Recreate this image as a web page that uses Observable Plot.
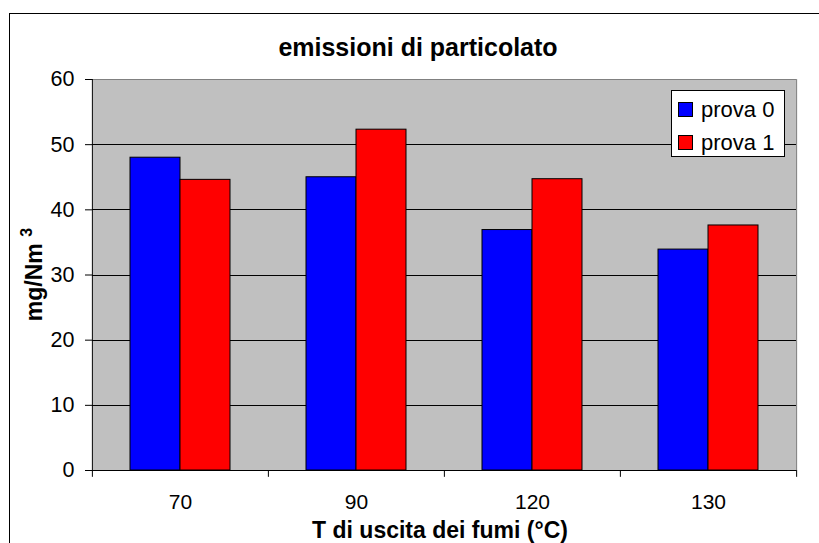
<!DOCTYPE html>
<html>
<head>
<meta charset="utf-8">
<script src="https://cdn.jsdelivr.net/npm/d3@7"></script>
<script src="https://cdn.jsdelivr.net/npm/@observablehq/plot@0.6"></script>
<style>
  html, body { margin: 0; padding: 0; background: #ffffff; overflow: hidden; }
  #chart svg { display: block; overflow: hidden; }
</style>
</head>
<body>
<div id="chart"></div>
<script>
// ---- data ----
const categories = ["70", "90", "120", "130"];
const series = ["prova 0", "prova 1"];
const prova0 = [48.0, 45.0, 36.9, 33.9];
const prova1 = [44.6, 52.3, 44.7, 37.6];
const yTicks = [0, 10, 20, 30, 40, 50, 60];
const seriesColors = ["#0000ff", "#ff0000"];
const titleText = "emissioni di particolato";
const xLabelText = "T di uscita dei fumi (°C)";
const yLabelMain = "mg/Nm";
const yLabelSup = "3";

const rows = [];
categories.forEach((c, i) => {
  rows.push({cat: c, series: series[0], value: prova0[i]});
  rows.push({cat: c, series: series[1], value: prova1[i]});
});

// ---- layout ----
const W = 819, H = 543;
const mL = 90, mR = 22, mT = 79, mB = 73;
const bandW = (W - mL - mR) / categories.length;
const pOuter = 0.75;
const step = bandW / (series.length + 2 * pOuter);
const edge = (pOuter + 0.5) * step; // from first bar centre to facet edge

const first = categories[0], last = categories[categories.length - 1];

const chart = Plot.plot({
  width: W,
  height: H,
  marginLeft: mL,
  marginRight: mR,
  marginTop: mT,
  marginBottom: mB,
  style: {fontFamily: "'Liberation Sans', Arial, sans-serif", fontSize: "21px", color: "#000", background: "#fff"},
  fx: {domain: categories, padding: 0, axis: null},
  x: {domain: series, paddingInner: 0, paddingOuter: pOuter, axis: null},
  y: {domain: [0, 60], axis: null},
  color: {domain: series, range: seriesColors},
  marks: [
    Plot.frame({fill: "#c0c0c0", shapeRendering: "crispEdges"}),
    Plot.ruleY(yTicks.filter(t => t > 0 && t < 60), {stroke: "#000", strokeWidth: 1, shapeRendering: "crispEdges"}),
    Plot.ruleY([60], {stroke: "#808080", strokeWidth: 1, shapeRendering: "crispEdges"}),
    // right border of the plot area
    Plot.ruleX([last], {fx: d => d, x: () => series[1], dx: edge, y1: 0, y2: 60, stroke: "#808080"}),
    Plot.barY(rows, {fx: "cat", x: "series", y: "value", fill: "series", stroke: "#000", strokeWidth: 1}),
    Plot.ruleY([0], {stroke: "#000", strokeWidth: 1, shapeRendering: "crispEdges"}),
    // y axis line + category boundary ticks
    Plot.ruleX([first], {fx: d => d, x: () => series[0], dx: -edge, y1: 0, y2: 60, stroke: "#000"}),
    Plot.ruleX(categories, {fx: d => d, x: () => series[0], dx: -edge, y1: 0, y2: -1.05, stroke: "#000"}),
    Plot.ruleX([last], {fx: d => d, x: () => series[1], dx: edge, y1: 0, y2: -1.05, stroke: "#000"}),
    Plot.axisY({ticks: yTicks, tickSize: 7, tickPadding: 11, fontSize: 21.5, stroke: "#000", label: null}),
    Plot.axisFx({anchor: "bottom", tickSize: 0, tickPadding: 24, fontSize: 21, label: null})
  ]
});

document.getElementById("chart").appendChild(chart);

// ---- annotations (title, axis titles, legend, outer border) ----
const svg = d3.select(chart);
const font = "'Liberation Sans', Arial, sans-serif";

svg.insert("rect", ":first-child")
  .attr("x", 9.5).attr("y", 13.5).attr("width", W).attr("height", H)
  .attr("fill", "none").attr("stroke", "#000").attr("stroke-width", 1);

svg.append("text")
  .attr("x", 418).attr("y", 56)
  .attr("text-anchor", "middle")
  .attr("font-family", font).attr("font-size", 25).attr("font-weight", "bold")
  .attr("fill", "#000")
  .text(titleText);

svg.append("text")
  .attr("x", 440).attr("y", 538)
  .attr("text-anchor", "middle")
  .attr("font-family", font).attr("font-size", 23).attr("font-weight", "bold")
  .attr("fill", "#000")
  .text(xLabelText);

const yl = svg.append("text")
  .attr("transform", `translate(42,${mT + (H - mT - mB) / 2}) rotate(-90)`)
  .attr("text-anchor", "middle")
  .attr("font-family", font).attr("font-size", 23).attr("font-weight", "bold")
  .attr("fill", "#000");
yl.append("tspan").text(yLabelMain);
yl.append("tspan").text(" ");
yl.append("tspan").attr("font-size", 16).attr("dy", -10).text(yLabelSup);

const color = chart.scale("color");
const lg = svg.append("g");
lg.append("rect")
  .attr("x", 671.5).attr("y", 90.5).attr("width", 113).attr("height", 66)
  .attr("fill", "#fff").attr("stroke", "#000");
series.forEach((s, i) => {
  const cy = 102 + i * 33;
  lg.append("rect")
    .attr("x", 678.5).attr("y", cy + 0.5).attr("width", 14).attr("height", 14)
    .attr("fill", color.apply(s)).attr("stroke", "#000");
  lg.append("text")
    .attr("x", 701).attr("y", cy + 15)
    .attr("text-anchor", "start")
    .attr("font-family", font).attr("font-size", 22)
    .attr("fill", "#000")
    .text(s);
});
</script>
</body>
</html>
